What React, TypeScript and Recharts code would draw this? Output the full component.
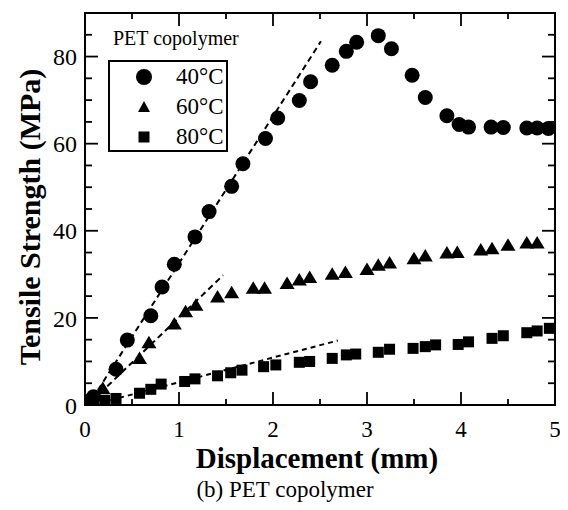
import React from "react";
import {
  ScatterChart,
  Scatter,
  XAxis,
  YAxis,
  ReferenceLine,
  ReferenceArea,
  Legend,
} from "recharts";

const FONT = "Liberation Serif, Times New Roman, serif";

// 40°C
const disp40 = [0.04, 0.09, 0.33, 0.45, 0.7, 0.82, 0.95, 1.17, 1.32, 1.56, 1.68, 1.92, 2.05, 2.28, 2.4, 2.63, 2.78, 2.89, 3.12, 3.26, 3.48, 3.62, 3.85, 3.98, 4.08, 4.32, 4.45, 4.7, 4.81, 4.93];
const stress40 = [0.8, 1.9, 8.2, 14.9, 20.5, 27.1, 32.3, 38.6, 44.4, 50.2, 55.4, 61.2, 65.9, 69.9, 74.2, 78.0, 81.2, 83.3, 84.8, 81.8, 75.7, 70.6, 66.4, 64.4, 63.8, 63.8, 63.7, 63.6, 63.6, 63.5];

// 60°C
const disp60 = [0.08, 0.19, 0.58, 0.68, 0.95, 1.07, 1.18, 1.41, 1.56, 1.79, 1.91, 2.15, 2.28, 2.39, 2.63, 2.77, 3.0, 3.12, 3.24, 3.5, 3.62, 3.85, 3.96, 4.21, 4.33, 4.5, 4.7, 4.81];
const stress60 = [1.2, 3.8, 10.7, 14.3, 18.6, 21.4, 22.9, 24.8, 25.8, 26.8, 26.8, 27.9, 28.7, 29.3, 30.0, 30.4, 31.1, 32.1, 32.6, 33.6, 34.2, 34.9, 35.0, 35.6, 35.9, 36.7, 37.2, 37.2];

// 80°C
const disp80 = [0.09, 0.21, 0.33, 0.58, 0.7, 0.81, 1.06, 1.17, 1.41, 1.55, 1.67, 1.9, 2.03, 2.28, 2.39, 2.63, 2.78, 2.88, 3.12, 3.24, 3.49, 3.62, 3.73, 3.97, 4.08, 4.33, 4.45, 4.7, 4.81, 4.94];
const stress80 = [1.5, 1.1, 1.5, 2.7, 3.6, 4.8, 5.4, 6.0, 6.7, 7.4, 8.0, 8.8, 9.2, 9.8, 10.0, 10.7, 11.5, 11.7, 12.1, 12.8, 13.0, 13.4, 13.8, 13.9, 14.5, 15.3, 15.9, 16.6, 17.0, 17.6];

// dashed linear fits (start, end)
const fit40 = [{ x: 0.08, y: 1.5 }, { x: 2.51, y: 83.5 }];
const fit60 = [{ x: 0.16, y: 2.7 }, { x: 1.47, y: 29.8 }];
const fit80 = [{ x: 0.27, y: 1.1 }, { x: 2.69, y: 14.8 }];

const xTicks = [0, 0.5, 1, 1.5, 2, 2.5, 3, 3.5, 4, 4.5, 5];
const yTicks = [0, 5, 10, 15, 20, 25, 30, 35, 40, 45, 50, 55, 60, 65, 70, 75, 80, 85, 90];

const toPoints = (xs: number[], ys: number[]) => xs.map((x, i) => ({ x, y: ys[i] }));

const W = 552;
const H = 494;
// y axis is 1px wide, x axis 1px tall (zero-size axes are not drawn)
const margin = { top: 5, right: 5, left: 76, bottom: 96 };
const plotLeft = 77;
const plotRight = W - margin.right;
const plotTop = margin.top;
const plotBottom = H - 97;

const Circle = (p: any) => <circle cx={p.cx} cy={p.cy} r={7.5} fill="#000" />;
const Tri = (p: any) => (
  <polygon
    points={`${p.cx},${p.cy - 7} ${p.cx - 7.5},${p.cy + 5.5} ${p.cx + 7.5},${p.cy + 5.5}`}
    fill="#000"
  />
);
const Sq = (p: any) => <rect x={p.cx - 5.5} y={p.cy - 5.5} width={11} height={11} fill="#000" />;

const YTick = (props: any) => {
  const v = props.payload.value;
  const y = props.payload.coordinate;
  if (v === 90) return <g />;
  const major = v % 20 === 0;
  const len = major ? 13 : 7;
  return (
    <g>
      {v !== 0 && (
        <>
          <line x1={plotLeft} x2={plotLeft + len} y1={y} y2={y} stroke="#000" strokeWidth={1.8} />
          <line x1={plotRight - len} x2={plotRight} y1={y} y2={y} stroke="#000" strokeWidth={1.8} />
        </>
      )}
      {major && (
        <text x={plotLeft - 8} y={y} dy="0.36em" textAnchor="end" fontSize={24} fontFamily={FONT} fill="#000">
          {v}
        </text>
      )}
    </g>
  );
};

const XTick = (props: any) => {
  const v = props.payload.value;
  const x = props.payload.coordinate;
  const major = Number.isInteger(v);
  const len = major ? 13 : 6;
  const edge = v === 0 || v === 5;
  return (
    <g>
      {!edge && (
        <>
          <line x1={x} x2={x} y1={plotBottom} y2={plotBottom - len} stroke="#000" strokeWidth={1.8} />
          <line x1={x} x2={x} y1={plotTop} y2={plotTop + len} stroke="#000" strokeWidth={1.8} />
        </>
      )}
      {major && (
        <text x={x} y={plotBottom + 32} textAnchor="middle" fontSize={23} fontFamily={FONT} fill="#000">
          {v}
        </text>
      )}
    </g>
  );
};

const XLabel = () => {
  const cx = (plotLeft + plotRight) / 2;
  return (
    <g>
      <text x={cx - 3} y={plotBottom + 63} textAnchor="middle" fontSize={29} fontWeight="bold" fontFamily={FONT} fill="#000">
        Displacement (mm)
      </text>
      <text x={cx - 35} y={plotBottom + 92} textAnchor="middle" fontSize={23} fontFamily={FONT} fill="#000">
        (b) PET copolymer
      </text>
    </g>
  );
};

const YLabel = () => {
  const cy = (plotTop + plotBottom) / 2 + 8;
  const x = 32;
  return (
    <text
      x={x}
      y={cy}
      transform={`rotate(-90, ${x}, ${cy})`}
      textAnchor="middle"
      fontSize={30}
      fontWeight="bold"
      fontFamily={FONT}
      fill="#000"
    >
      Tensile Strength (MPa)
    </text>
  );
};

const legendRows = [
  { name: "40°C", icon: <circle cx={10} cy={10} r={8} fill="#000" /> },
  { name: "60°C", icon: <polygon points="10,4 4,15 16,15" fill="#000" /> },
  { name: "80°C", icon: <rect x={4.5} y={4.5} width={11} height={11} fill="#000" /> },
];

const LegendBox = () => (
  <div style={{ position: "relative", width: 160, height: 130, fontFamily: FONT, color: "#000" }}>
    <div style={{ position: "absolute", left: 5, top: -1, fontSize: 20, whiteSpace: "nowrap" }}>PET copolymer</div>
    <div
      style={{
        position: "absolute",
        left: 0,
        top: 32,
        width: 116,
        height: 88,
        border: "2px solid #000",
      }}
    >
      {legendRows.map((r, i) => (
        <div key={r.name} style={{ position: "absolute", left: 0, top: 1 + i * 30, height: 28, width: 116 }}>
          <svg width={20} height={20} style={{ position: "absolute", left: 24, top: 4 }}>
            {r.icon}
          </svg>
          <span style={{ position: "absolute", left: 66, top: 0, fontSize: 23, lineHeight: "28px", whiteSpace: "nowrap" }}>
            {r.name}
          </span>
        </div>
      ))}
    </div>
  </div>
);

export default function App() {
  return (
    <ScatterChart width={W} height={H} margin={margin}>
      <XAxis
        type="number"
        dataKey="x"
        domain={[0, 5]}
        ticks={xTicks}
        interval={0}
        allowDataOverflow
        height={1}
        axisLine={false}
        tickLine={false}
        tickSize={0}
        tick={<XTick />}
        label={{ content: <XLabel /> }}
      />
      <YAxis
        type="number"
        dataKey="y"
        domain={[0, 90]}
        ticks={yTicks}
        interval={0}
        allowDataOverflow
        width={1}
        axisLine={false}
        tickLine={false}
        tickSize={0}
        tick={<YTick />}
        label={{ content: <YLabel /> }}
      />
      <ReferenceArea x1={0} x2={5} y1={0} y2={90} fill="none" stroke="#000" strokeWidth={2} ifOverflow="visible" />
      <ReferenceLine segment={fit40} stroke="#000" strokeWidth={2} strokeDasharray="6 4" ifOverflow="visible" />
      <ReferenceLine segment={fit60} stroke="#000" strokeWidth={2} strokeDasharray="6 4" ifOverflow="visible" />
      <ReferenceLine segment={fit80} stroke="#000" strokeWidth={2} strokeDasharray="5 4" ifOverflow="visible" />
      <Scatter name="40°C" data={toPoints(disp40, stress40)} shape={Circle} isAnimationActive={false} />
      <Scatter name="60°C" data={toPoints(disp60, stress60)} shape={Tri} isAnimationActive={false} />
      <Scatter name="80°C" data={toPoints(disp80, stress80)} shape={Sq} isAnimationActive={false} />
      <Legend
        layout="horizontal"
        verticalAlign="middle"
        align="center"
        content={<LegendBox />}
        wrapperStyle={{ position: "absolute", left: 100, top: 20, width: 160, height: 130 }}
      />
    </ScatterChart>
  );
}
